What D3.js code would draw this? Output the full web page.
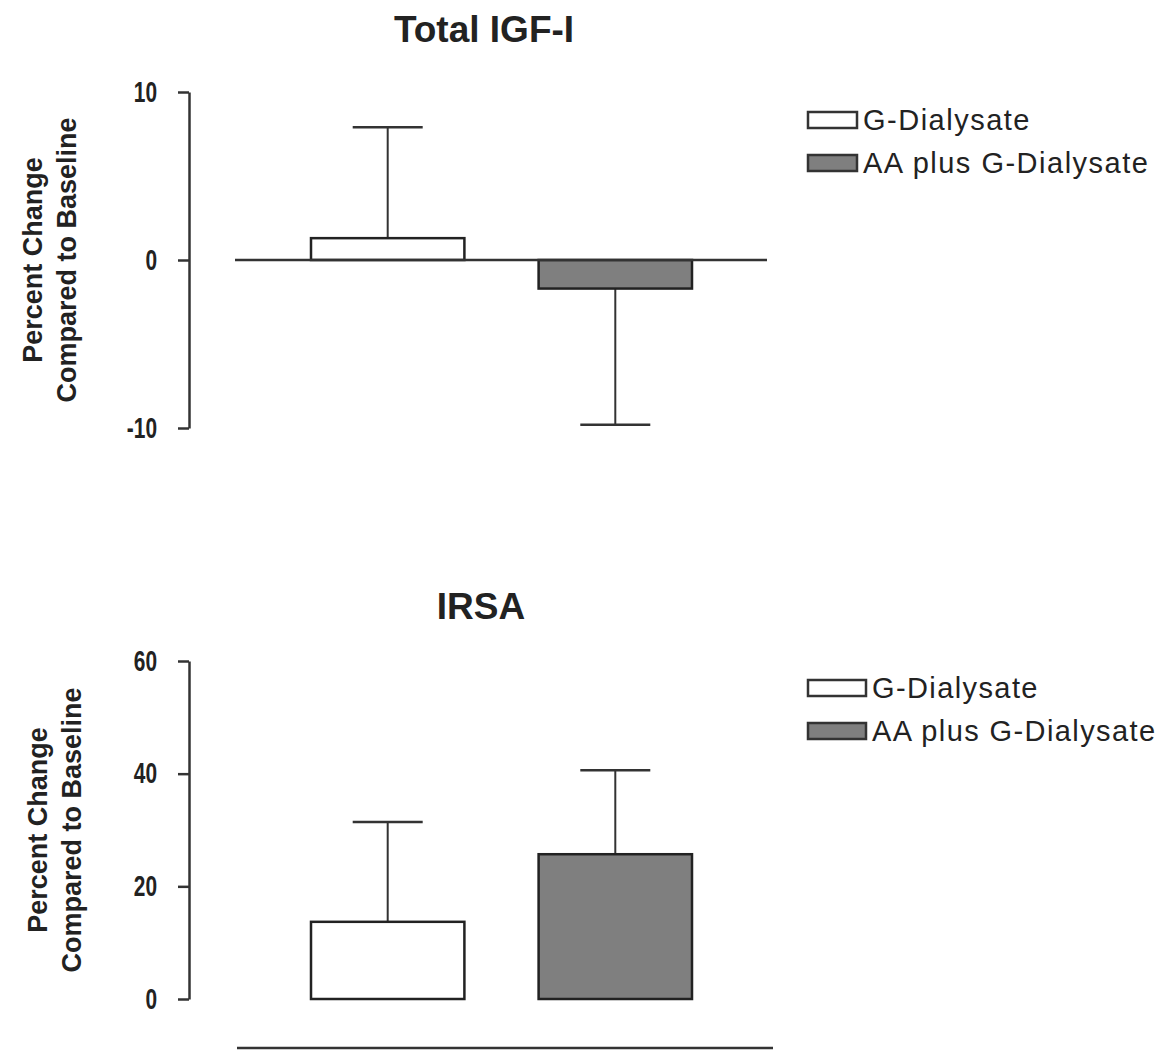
<!DOCTYPE html>
<html>
<head>
<meta charset="utf-8">
<script src="https://cdn.jsdelivr.net/npm/d3@7"></script>
<style>
  body { margin: 0; background: #fff; }
  text { fill: #222; }
</style>
</head>
<body>
<div id="main"></div>
<script>
// groups shown in both panels
var groups = ['G-Dialysate', 'AA plus G-Dialysate'];
var fills = ['#ffffff', '#7f7f7f'];

// Total IGF-I: mean percent change and upper/lower error end
var igfMeans = [1.3, -1.7];
var igfErrEnds = [7.9, -9.8];
var igfTicks = [-10, 0, 10];

// IRSA
var irsaMeans = [13.7, 25.7];
var irsaErrEnds = [31.4, 40.6];
var irsaTicks = [0, 20, 40, 60];

var width = 1165, height = 1053;

var svg = d3.select('#main')
  .append('svg')
  .attr('width', width)
  .attr('height', height);

function drawPanel(p) {
  var g = svg.append('g');

  var y = d3.scaleLinear().domain(p.domain).range([p.bottom, p.top]);
  var x = d3.scaleBand().domain(groups).range([311, 692]).paddingInner(0.326).paddingOuter(0);

  // title
  g.append('text')
    .attr('x', p.titleX)
    .attr('y', p.titleY)
    .attr('text-anchor', 'middle')
    .style('font-family', '"Liberation Sans", Arial, sans-serif')
    .style('font-weight', 'bold')
    .style('font-size', '37px')
    .text(p.title);

  // y axis
  var axis = d3.axisLeft(y).tickValues(p.ticks).tickSize(11).tickSizeOuter(0)
    .tickFormat(function(d) { return String(d); });
  var ax = g.append('g')
    .attr('transform', 'translate(189,0)')
    .call(axis);
  ax.select('.domain').attr('stroke', '#333').attr('stroke-width', 2.5);
  ax.selectAll('.tick line').attr('stroke', '#333').attr('stroke-width', 2.5);
  // condensed tick labels
  ax.selectAll('.tick text')
    .attr('x', -32 / 0.72)
    .attr('transform', 'scale(0.72,1)')
    .style('font-family', '"Liberation Sans", Arial, sans-serif')
    .style('font-size', '29px')
    .style('font-weight', 'bold')
    .attr('fill', '#2a2a2a');

  // y label, two lines
  var lab = g.append('text')
    .attr('transform', 'translate(' + p.labelX + ',' + ((p.top + p.bottom) / 2) + ') rotate(-90)')
    .attr('text-anchor', 'middle')
    .style('font-family', '"Liberation Sans", Arial, sans-serif')
    .style('font-weight', 'bold')
    .style('font-size', '27px');
  lab.append('tspan').attr('x', 0).attr('dy', 0).text('Percent Change');
  lab.append('tspan').attr('x', 0).attr('dy', 34).text('Compared to Baseline');

  // error bars
  var cx = function(d, i) { return x(groups[i]) + x.bandwidth() / 2; };
  g.selectAll('.err')
    .data(p.errs)
    .enter()
    .append('line')
    .attr('x1', cx).attr('x2', cx)
    .attr('y1', function(d, i) { return y(p.means[i]); })
    .attr('y2', function(d) { return y(d); })
    .attr('stroke', '#333').attr('stroke-width', 2);
  g.selectAll('.cap')
    .data(p.errs)
    .enter()
    .append('line')
    .attr('x1', function(d, i) { return cx(d, i) - 35; })
    .attr('x2', function(d, i) { return cx(d, i) + 35; })
    .attr('y1', function(d) { return y(d); })
    .attr('y2', function(d) { return y(d); })
    .attr('stroke', '#333').attr('stroke-width', 2.5);

  // bars
  g.selectAll('.bar')
    .data(p.means)
    .enter()
    .append('rect')
    .attr('x', function(d, i) { return x(groups[i]); })
    .attr('width', x.bandwidth())
    .attr('y', function(d) { return y(Math.max(0, d)); })
    .attr('height', function(d) { return Math.abs(y(d) - y(0)); })
    .attr('fill', function(d, i) { return fills[i]; })
    .attr('stroke', '#222')
    .attr('stroke-width', 2.5);

  // baseline
  g.append('line')
    .attr('x1', p.baseX1).attr('x2', p.baseX2)
    .attr('y1', p.baseY).attr('y2', p.baseY)
    .attr('stroke', '#333').attr('stroke-width', 2.5);

  // legend
  var leg = g.append('g').attr('transform', 'translate(808,' + p.legendY + ')');
  groups.forEach(function(name, i) {
    leg.append('rect')
      .attr('x', 0).attr('y', i * p.legendGap)
      .attr('width', p.swatchW).attr('height', 16)
      .attr('fill', fills[i])
      .attr('stroke', '#333').attr('stroke-width', 2.5);
    leg.append('text')
      .attr('x', p.swatchW + 6).attr('y', i * p.legendGap + 8)
      .attr('dy', '0.35em')
      .style('font-family', '"Liberation Sans", Arial, sans-serif')
      .style('font-size', p.legendFont + 'px')
      .style('letter-spacing', p.legendSpacing + 'px')
      .text(name);
  });
}

drawPanel({
  title: 'Total IGF-I', titleX: 484, titleY: 42,
  domain: [-10, 10], top: 92, bottom: 428, ticks: igfTicks,
  means: igfMeans, errs: igfErrEnds,
  labelX: 42, baseX1: 235, baseX2: 767, baseY: 260,
  legendY: 112, legendGap: 43, swatchW: 49, legendFont: 29, legendSpacing: 1.5
});

drawPanel({
  title: 'IRSA', titleX: 481, titleY: 619,
  domain: [0, 60], top: 661, bottom: 999, ticks: irsaTicks,
  means: irsaMeans, errs: irsaErrEnds,
  labelX: 47, baseX1: 237, baseX2: 773, baseY: 1048,
  legendY: 680, legendGap: 43, swatchW: 58, legendFont: 29, legendSpacing: 1.4
});
</script>
</body>
</html>
